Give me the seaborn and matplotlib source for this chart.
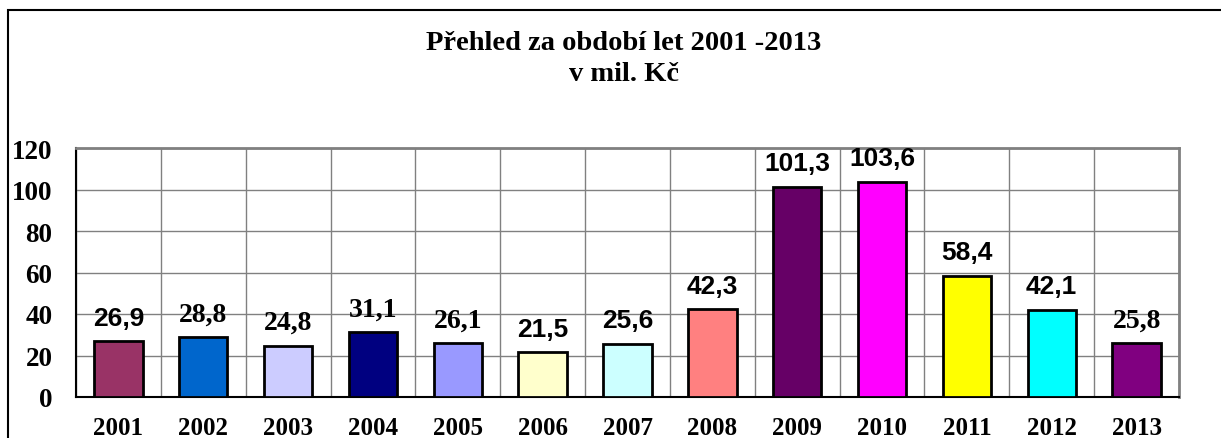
import matplotlib
matplotlib.use("Agg")
import matplotlib.pyplot as plt
import matplotlib.patches as patches
import seaborn as sns
import pandas as pd

years = ["2001", "2002", "2003", "2004", "2005", "2006", "2007",
         "2008", "2009", "2010", "2011", "2012", "2013"]
values = [26.9, 28.8, 24.8, 31.1, 26.1, 21.5, 25.6,
          42.3, 101.3, 103.6, 58.4, 42.1, 25.8]
colors = ["#993366", "#0066CC", "#CCCCFF", "#000080", "#9999FF", "#FFFFCC", "#CCFFFF",
          "#FF8080", "#660066", "#FF00FF", "#FFFF00", "#00FFFF", "#800080"]
# some value labels in the original are serif, others sans
label_fonts = ["Liberation Sans", "Liberation Serif", "Liberation Serif", "Liberation Serif",
               "Liberation Serif", "Liberation Sans", "Liberation Sans", "Liberation Sans",
               "Liberation Sans", "Liberation Sans", "Liberation Sans", "Liberation Sans",
               "Liberation Serif"]
title = "Přehled za období let 2001 -2013\nv mil. Kč"

df = pd.DataFrame({"rok": years, "hodnota": values})

sns.set_style("white")
plt.rcParams["font.family"] = ["Liberation Serif", "DejaVu Serif"]
plt.rcParams["text.color"] = "black"
plt.rcParams["xtick.color"] = "black"
plt.rcParams["ytick.color"] = "black"
plt.rcParams["axes.labelcolor"] = "black"

fig = plt.figure(figsize=(12.21, 4.39), dpi=100)
ax = fig.add_axes([76 / 1221, 41 / 439, 1103 / 1221, 249 / 439])

sns.barplot(data=df, x="rok", y="hodnota", hue="rok", palette=colors, legend=False,
            width=0.57, edgecolor="black", linewidth=2, saturation=1, ax=ax, zorder=3)

ax.set_ylim(0, 120)
ax.set_xlim(-0.5, len(years) - 0.5)
ax.set_yticks(range(0, 121, 20))
ax.set_xlabel("")
ax.set_ylabel("")

# grid: horizontal at major y, vertical at category boundaries
ax.set_xticks([i - 0.5 for i in range(len(years) + 1)], minor=True)
ax.grid(axis="y", which="major", color="#808080", linewidth=1, zorder=0)
ax.grid(axis="x", which="minor", color="#808080", linewidth=1, zorder=0)
ax.set_axisbelow(True)

ax.tick_params(axis="x", which="major", length=0, pad=14, labelsize=18)
ax.tick_params(axis="x", which="minor", length=6, width=1, color="#404040", direction="out")
ax.tick_params(axis="y", length=6, width=1, direction="out", pad=11, labelsize=19.5)
for lbl in ax.get_xticklabels() + ax.get_yticklabels():
    lbl.set_fontweight("bold")

for side in ["top", "right"]:
    ax.spines[side].set_color("#808080")
    ax.spines[side].set_linewidth(2)
for side in ["left", "bottom"]:
    ax.spines[side].set_color("black")
    ax.spines[side].set_linewidth(1.5)

for i, v in enumerate(values):
    fs = 20 if label_fonts[i] == "Liberation Serif" else 19
    ax.annotate(f"{v:.1f}".replace(".", ","), (i, v), xytext=(0, 12),
                textcoords="offset points", ha="center", va="baseline",
                fontsize=fs, fontweight="bold", family=label_fonts[i], zorder=5)

fig.text(0.511, 1 - 31 / 439, title, ha="center", va="top", fontsize=20.5,
         fontweight="bold", linespacing=1.3)

# outer chart frame (only top and left edges fall inside the image)
fig.patches.append(patches.Rectangle((8 / 1221, -0.2), 1.5, 1.2 - 11 / 439,
                                     transform=fig.transFigure, fill=False,
                                     edgecolor="black", linewidth=1.5))

fig.savefig("out.png", dpi=100)
